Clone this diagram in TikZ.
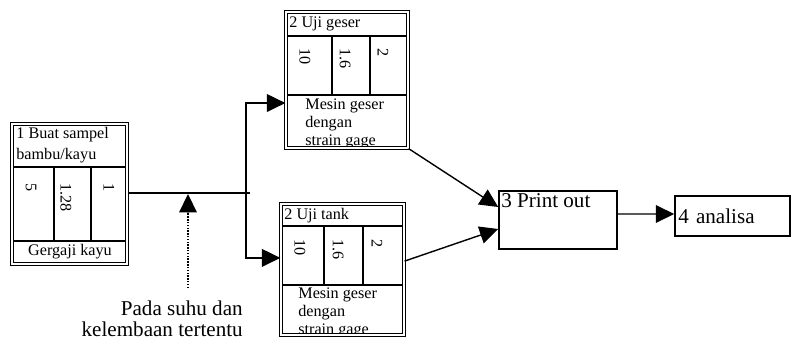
\documentclass[tikz,border=0pt]{standalone}
\usepackage{fontspec}
\setmainfont{Liberation Serif}
\usetikzlibrary{arrows.meta,positioning,calc}
\tikzset{
  proses/.style={draw, double, double distance=1.2pt, line width=0.85pt, inner sep=0pt},
  kotak/.style={draw, line width=1.1pt, inner sep=0pt},
  garis/.style={line width=1pt},
  panah/.style={garis, -{Triangle[length=4.6mm, width=4.4mm]}},
  isi/.style={font=\fontsize{11.5}{12.5}\selectfont, inner sep=1.5pt, align=left},
  angka/.style={font=\fontsize{11.5}{12}\selectfont, rotate=-90, anchor=west, inner sep=0pt},
  ket/.style={font=\fontsize{15}{14.5}\selectfont, inner sep=0pt}
}
\begin{document}
\begin{tikzpicture}[x=0.025cm, y=-0.025cm]
  \useasboundingbox (0,0) rectangle (793,343);

  % garis dalam kotak
  \draw [garis] (12,167) -- (127,167) (12,241) -- (127,241) (54,167) -- (54,241) (91,167) -- (91,241);
  \draw [garis] (286,36) -- (408,36) (286,95) -- (408,95) (332,36) -- (332,95) (370,36) -- (370,95);
  \draw [garis] (281,226) -- (404,226) (281,285) -- (404,285) (324,226) -- (324,285) (363,226) -- (363,285);

  % kotak proses
  \node [proses, minimum width=2.875cm, minimum height=3.5cm] (buat) at (69.5,194) {};
  \node [proses, minimum width=3.05cm, minimum height=3.4cm] (geser) at (347,80) {};
  \node [proses, minimum width=3.075cm, minimum height=3.275cm] (tank) at (342.5,269.5) {};
  \node [kotak, minimum width=2.95cm, minimum height=1.45cm] (print) at (558,220) {};
  \node [kotak, minimum width=2.875cm, minimum height=1cm, text width=2.7cm, inner xsep=0.0875cm, align=left, font=\fontsize{15}{16}\selectfont] (analisa) at (732.5,216) {4 analisa};

  % isi kotak 1
  \node [isi, anchor=north west, font=\fontsize{11.5}{15}\selectfont] (buatjudul) at (14,125) {1 Buat sampel\\bambu/kayu};
  \node [angka] (buata) at (31,183) {5};
  \node [angka] (buatb) at (66,183) {1.28};
  \node [angka] (buatc) at (109,183) {1};
  \node [isi] (buatalat) at (70,252) {Gergaji kayu};

  % isi kotak 2
  \node [isi, anchor=north west] (geserjudul) at (287,14) {2 Uji geser};
  \node [angka] (gesera) at (305,48) {10};
  \node [angka] (geserb) at (345,48) {1.6};
  \node [angka] (geserc) at (383,48) {2};
  \node [isi, anchor=north west] (tankjudul) at (282,206) {2 Uji tank};
  \node [angka] (tanka) at (300,239) {10};
  \node [angka] (tankb) at (338,239) {1.6};
  \node [angka] (tankc) at (377,239) {2};
  \begin{scope}
    \clip (287,96) rectangle (407,145);
    \node [isi, anchor=north west, font=\fontsize{11.5}{13}\selectfont] (geseralat) at (303,96) {Mesin geser\\dengan\\strain gage};
  \end{scope}
  \begin{scope}
    \clip (282,286) rectangle (403,332);
    \node [isi, anchor=north west, font=\fontsize{11.5}{13}\selectfont] (tankalat) at (296,285) {Mesin geser\\dengan\\strain gage};
  \end{scope}

  \node [anchor=north west, inner sep=2pt, font=\fontsize{15}{16}\selectfont] (printjudul) at (print.north west) {3 Print out};

  % keterangan
  \node [ket, anchor=north east, align=right] (kondisi) at (243,301) {Pada suhu dan\\kelembaan tertentu};

  % penghubung
  \coordinate (cabang) at (246,193);
  \coordinate (lebih) at (250,193);
  \coordinate (tekanan) at (188,194);
  \coordinate (bawah) at (188,288);
  \draw [garis] (buat.east |- cabang) -- (lebih);
  \draw [panah] (cabang) |- ([yshift=-0.575cm]geser.west);
  \draw [panah] (cabang) |- ([yshift=0.29cm]tank.west);
  \draw [panah, densely dotted] (bawah) -- (tekanan);
  \draw [panah] (geser.south east) -- ([yshift=0.325cm]print.west);
  \draw [panah] ([yshift=0.21cm]tank.east) -- ([yshift=-0.225cm]print.west);
  \draw [panah] ([yshift=0.15cm]print.east) -- ([yshift=0.05cm]analisa.west);
\end{tikzpicture}
\end{document}
